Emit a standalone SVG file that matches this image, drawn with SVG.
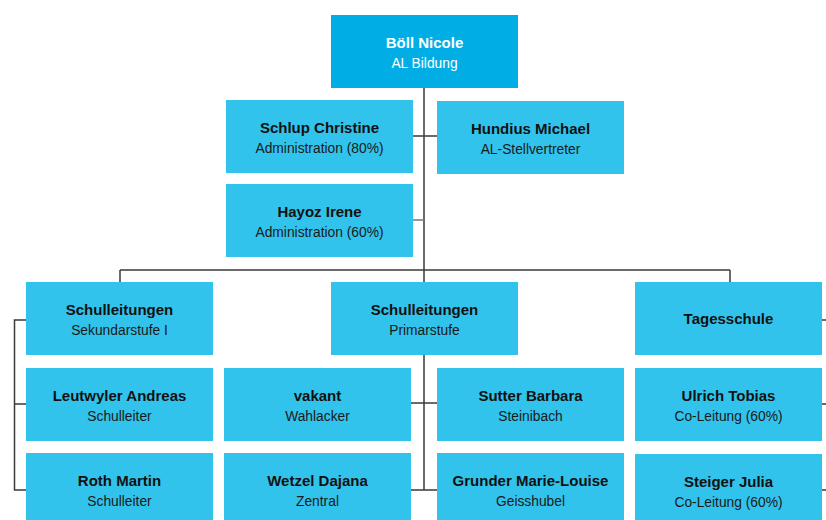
<svg xmlns="http://www.w3.org/2000/svg" width="826" height="520" viewBox="0 0 826 520">
<style>
.n{fill:#31C3EB}
.top{fill:#00AEE5}
.t1{font-family:"Liberation Sans",Arial,sans-serif;font-weight:bold;font-size:15px;fill:#111;text-anchor:middle}
.t2{font-family:"Liberation Sans",Arial,sans-serif;font-size:13.8px;fill:#1a1a1a;text-anchor:middle}
.w{fill:#fff}
.c{stroke:#3a3a3a;stroke-width:1.5;fill:none}
</style>
<rect width="826" height="520" fill="#fff"/>
<g id="connectors">
<path class="c" d="M424 88V270M413 136H437M120 270H730M120 270V282M730 270V282M424 270V282M424 355V490M411 403H437M411 490H437M26 320H14.5V490H26M14.5 404H26M822 320H826M822 404H826M822 490H826"/>
<path class="c" stroke="#777" style="stroke:#777" d="M413 220H424"/>
</g>
<g id="boell"><rect class="top" x="331" y="15" width="187" height="73"/><text class="t1 w" x="424.5" y="48">Böll Nicole</text><text class="t2 w" x="424.5" y="68">AL Bildung</text></g>
<g id="schlup"><rect class="n" x="226" y="100" width="187" height="73"/><text class="t1" x="319.5" y="133">Schlup Christine</text><text class="t2" x="319.5" y="153">Administration (80%)</text></g>
<g id="hundius"><rect class="n" x="437" y="101" width="187" height="73"/><text class="t1" x="530.5" y="134">Hundius Michael</text><text class="t2" x="530.5" y="154">AL-Stellvertreter</text></g>
<g id="hayoz"><rect class="n" x="226" y="184" width="187" height="73"/><text class="t1" x="319.5" y="217">Hayoz Irene</text><text class="t2" x="319.5" y="237">Administration (60%)</text></g>
<g id="sek"><rect class="n" x="26" y="282" width="187" height="73"/><text class="t1" x="119.5" y="315">Schulleitungen</text><text class="t2" x="119.5" y="335">Sekundarstufe I</text></g>
<g id="prim"><rect class="n" x="331" y="282" width="187" height="73"/><text class="t1" x="424.5" y="315">Schulleitungen</text><text class="t2" x="424.5" y="335">Primarstufe</text></g>
<g id="tages"><rect class="n" x="635" y="282" width="187" height="73"/><text class="t1" x="728.5" y="324">Tagesschule</text></g>
<g id="leutwyler"><rect class="n" x="26" y="368" width="187" height="73"/><text class="t1" x="119.5" y="401">Leutwyler Andreas</text><text class="t2" x="119.5" y="421">Schulleiter</text></g>
<g id="roth"><rect class="n" x="26" y="453" width="187" height="73"/><text class="t1" x="119.5" y="486">Roth Martin</text><text class="t2" x="119.5" y="506">Schulleiter</text></g>
<g id="vakant"><rect class="n" x="224" y="368" width="187" height="73"/><text class="t1" x="317.5" y="401">vakant</text><text class="t2" x="317.5" y="421">Wahlacker</text></g>
<g id="wetzel"><rect class="n" x="224" y="453" width="187" height="73"/><text class="t1" x="317.5" y="486">Wetzel Dajana</text><text class="t2" x="317.5" y="506">Zentral</text></g>
<g id="sutter"><rect class="n" x="437" y="368" width="187" height="73"/><text class="t1" x="530.5" y="401">Sutter Barbara</text><text class="t2" x="530.5" y="421">Steinibach</text></g>
<g id="grunder"><rect class="n" x="437" y="453" width="187" height="73"/><text class="t1" x="530.5" y="486">Grunder Marie-Louise</text><text class="t2" x="530.5" y="506">Geisshubel</text></g>
<g id="ulrich"><rect class="n" x="635" y="368" width="187" height="73"/><text class="t1" x="728.5" y="401">Ulrich Tobias</text><text class="t2" x="728.5" y="421">Co-Leitung (60%)</text></g>
<g id="steiger"><rect class="n" x="635" y="454" width="187" height="73"/><text class="t1" x="728.5" y="487">Steiger Julia</text><text class="t2" x="728.5" y="507">Co-Leitung (60%)</text></g>
</svg>
